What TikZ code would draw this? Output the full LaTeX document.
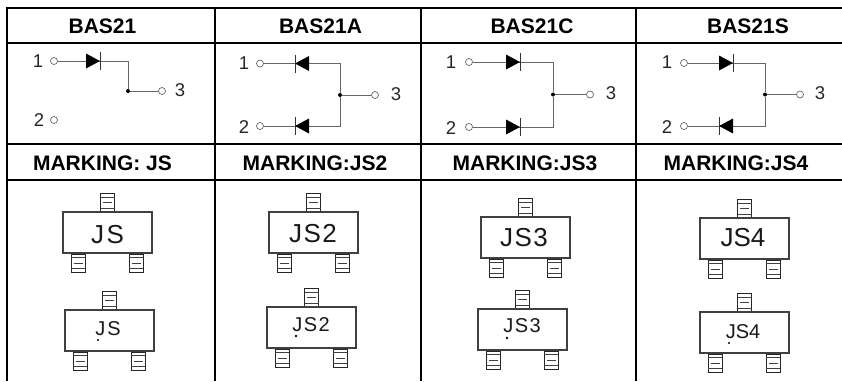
\documentclass[tikz,border=0pt]{standalone}
\usepackage{fontspec}
\setmainfont{Liberation Sans}
\tikzset{
  x=1pt,y=-1pt,
  grid/.style={line width=1.5pt,black},
  wire/.style={line width=0.9pt,draw=black!60},
  term/.style={circle,draw=black!60,fill=white,line width=0.7pt,inner sep=0pt,minimum size=7pt},
  junction/.style={circle,fill=black,inner sep=0pt,minimum size=4pt},
  pinlabel/.style={font=\fontsize{18.5}{20}\selectfont,text=black!85,inner sep=0pt},
  header/.style={font=\fontsize{21}{24}\selectfont\bfseries,inner sep=0pt},
  markbig/.style={font=\fontsize{26}{28}\selectfont,text=black!90,inner sep=0pt},
  marksmall/.style={font=\fontsize{20}{22}\selectfont,text=black!90,inner sep=0pt},
  pkgbody/.style={draw=black!75,line width=2pt,fill=white},
  pkgpin/.style={draw=black!85,line width=0.9pt,fill=white},
  pkgline/.style={draw=black!75,line width=0.8pt},
}
% diode: #1 bar x, #2 y, #3 direction (+1 points right with bar at tip, -1 points left with bar at base)
\newcommand{\diodeR}[2]{%
  \fill[black] (#1-14,#2-7.5) -- (#1,#2) -- (#1-14,#2+7.5) -- cycle;
  \draw[line width=1pt,black!80] (#1,#2-9) -- (#1,#2+9);}
\newcommand{\diodeL}[2]{%
  \fill[black] (#1+14,#2-7.5) -- (#1,#2) -- (#1+14,#2+7.5) -- cycle;
  \draw[line width=1pt,black!80] (#1,#2-9) -- (#1,#2+9);}
% pin: #1 left x, #2 top y
\newcommand{\pkgpinat}[2]{%
  \draw[pkgpin] (#1,#2) rectangle ++(14,18);
  \draw[pkgline] (#1,#2+3.5) -- ++(14,0) (#1,#2+14.5) -- ++(14,0)
    (#1+2.5,#2+9) -- ++(9,0);}
% package: #1 left x, #2 top y
\newcommand{\package}[2]{%
  \pkgpinat{#1+38.5}{#2-17.5}
  \pkgpinat{#1+9}{#2+43}
  \pkgpinat{#1+67}{#2+43}
  \draw[pkgbody] (#1+1,#2+1) rectangle (#1+90,#2+42);}
\begin{document}
\begin{tikzpicture}
\useasboundingbox (0,0) rectangle (842,381);
% grid
\draw[grid] (7,381) -- (7,8) -- (842,8);
\draw[grid] (7,43) -- (842,43);
\draw[grid] (7,144) -- (842,144);
\draw[grid] (7,180) -- (842,180);
\draw[grid] (215,8) -- (215,381);
\draw[grid] (421,8) -- (421,381);
\draw[grid] (636,8) -- (636,381);
% headers
\node[header] (h1) at (102.5,26) {BAS21};
\node[header] (h2) at (320.5,26) {BAS21A};
\node[header] (h3) at (532,26) {BAS21C};
\node[header] (h4) at (748,26) {BAS21S};
\node[header] (m1) at (102.5,163) {MARKING: JS};
\node[header] (m2) at (315,163) {MARKING:JS2};
\node[header] (m3) at (525,163) {MARKING:JS3};
\node[header] (m4) at (736,163) {MARKING:JS4};
% BAS21
\node[pinlabel] (a1l) at (38,61) {1};
\node[pinlabel] (a2l) at (39,120) {2};
\node[pinlabel] (a3l) at (180,90) {3};
\node[term] (a1) at (54,61) {};
\node[term] (a2) at (54,120) {};
\node[term] (a3) at (162,91) {};
\node[junction] (aj) at (128,91) {};
\coordinate (ac) at (128,61);
\draw[wire] (a1) -- (ac) -- (aj) -- (a3);
\diodeR{100}{61}
% BAS21A
\node[pinlabel] (b1l) at (244,63) {1};
\node[pinlabel] (b2l) at (244,127) {2};
\node[pinlabel] (b3l) at (396,94) {3};
\node[term] (b1) at (260,63.5) {};
\node[term] (b2) at (260,126) {};
\node[term] (b3) at (375,95) {};
\node[junction] (bj) at (340,95) {};
\coordinate (bc1) at (340,63.5);
\coordinate (bc2) at (340,126);
\draw[wire] (b1) -- (bc1) -- (bj) -- (b3);
\draw[wire] (b2) -- (bc2) -- (bj);
\diodeL{295}{63.5}
\diodeL{295}{126}
% BAS21C
\node[pinlabel] (c1l) at (451,62) {1};
\node[pinlabel] (c2l) at (451,128) {2};
\node[pinlabel] (c3l) at (611,93) {3};
\node[term] (c1) at (469,62) {};
\node[term] (c2) at (469,127) {};
\node[term] (c3) at (590,94.5) {};
\node[junction] (cj) at (553,94.5) {};
\coordinate (cc1) at (553,62);
\coordinate (cc2) at (553,127);
\draw[wire] (c1) -- (cc1) -- (cj) -- (c3);
\draw[wire] (c2) -- (cc2) -- (cj);
\diodeR{520}{62}
\diodeR{520}{127}
% BAS21S
\node[pinlabel] (d1l) at (667,62) {1};
\node[pinlabel] (d2l) at (667,127) {2};
\node[pinlabel] (d3l) at (820,93) {3};
\node[term] (d1) at (684,63) {};
\node[term] (d2) at (684,126) {};
\node[term] (d3) at (800,94.5) {};
\node[junction] (dj) at (765,94.5) {};
\coordinate (dc1) at (765,63);
\coordinate (dc2) at (765,126);
\draw[wire] (d1) -- (dc1) -- (dj) -- (d3);
\draw[wire] (d2) -- (dc2) -- (dj);
\diodeR{733}{63}
\diodeL{719}{126}
% packages
\package{62}{211}
\package{268}{211}
\package{480}{216}
\package{699}{217}
\package{64}{309}
\package{266}{306}
\package{477}{308}
\package{699}{311}
% markings
\node[markbig] (t1) at (107.5,235) {J\kern2.5pt S};
\node[markbig] (t2) at (313,234) {J\kern1.5pt S\kern1.5pt 2};
\node[markbig] (t3) at (524,238) {J\kern1.5pt S\kern1.5pt 3};
\node[markbig] (t4) at (743,238) {JS4};
\node[marksmall] (t5) at (108,329) {J\kern2pt S};
\node[marksmall] (t6) at (311,325) {J\kern1.5pt S\kern1.5pt 2};
\node[marksmall] (t7) at (522,326) {J\kern1.5pt S\kern1.5pt 3};
\node[marksmall] (t8) at (743,332) {JS4};
\fill[black] (98,340) circle (1.2);
\fill[black] (296,336) circle (1.4);
\fill[black] (507,338) circle (1.4);
\fill[black] (729,343) circle (1.2);
\end{tikzpicture}
\end{document}
